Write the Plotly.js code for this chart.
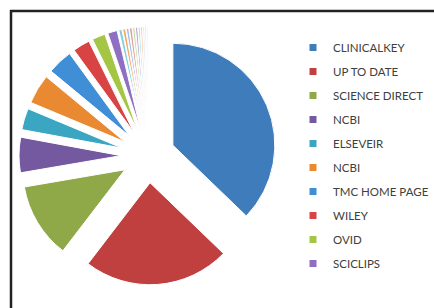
<!DOCTYPE html>
<html>
<head>
<meta charset="utf-8">
<script src="https://cdn.plot.ly/plotly-3.0.1.min.js"></script>
<style>
html,body{margin:0;padding:0;background:#fff;}
#chart{width:434px;height:308px;}
</style>
</head>
<body>
<div id="chart"></div>
<script>
// Named legend categories (first 10 slices) and their values (% of responses)
const legendLabels = ["CLINICALKEY","UP TO DATE","SCIENCE DIRECT","NCBI","ELSEVEIR","NCBI ","TMC HOME PAGE","WILEY","OVID","SCICLIPS"];
const legendValues = [37.2, 23.2, 11.9, 5.6, 3.4, 4.7, 4.0, 2.7, 2.1, 1.5];
const legendColors = ["#3e7cbc","#c0403f","#8fa848","#7459a0","#3aa6c2","#e98a33","#3f8ed6","#d84444","#a4c644","#8f6fc1"];

// Small unlabelled slices (not shown in the legend)
const otherLabels = ["s11","s12","s13","s14","s15","s16","s17","s18","s19","s20","s21"];
const otherValues = [0.5, 0.45, 0.4, 0.4, 0.35, 0.35, 0.3, 0.3, 0.25, 0.2, 0.2];
const otherColors = ["#7fd0e0","#f5a860","#9ec0e8","#e89898","#c8dc98","#b8a8d8","#a8dce8","#f8c8a0","#c8d8f0","#f0c8c8","#dde8c8"];

const pieLabels = legendLabels.concat(otherLabels);
const pieValues = legendValues.concat(otherValues);
const pieColors = legendColors.concat(otherColors);

const pie = {
  type: "pie",
  labels: pieLabels,
  values: pieValues,
  sort: false,
  direction: "clockwise",
  rotation: 0,
  pull: 0.265,
  textinfo: "none",
  hoverinfo: "label+percent",
  marker: {colors: pieColors, line: {color: "#ffffff", width: 1}},
  domain: {x: [19/434, 277/434], y: [1 - 284.8/308, 1 - 26.8/308]},
  showlegend: false
};

const legendTraces = legendLabels.map((name, i) => ({
  type: "scatter",
  mode: "markers",
  x: [null], y: [null],
  name: name,
  legendgroup: "g" + i,
  marker: {symbol: "square", size: 7, color: legendColors[i]},
  showlegend: true
}));

const layout = {
  width: 434, height: 308,
  margin: {l: 0, r: 0, t: 0, b: 0},
  paper_bgcolor: "#ffffff",
  plot_bgcolor: "rgba(0,0,0,0)",
  font: {family: "Lato, 'Open Sans', sans-serif", color: "#404040"},
  xaxis: {visible: false},
  yaxis: {visible: false},
  showlegend: true,
  legend: {
    x: 293/434, xanchor: "left",
    y: 1 - 33/308, yanchor: "top",
    font: {size: 11.5, color: "#404040", family: "Lato, 'Open Sans', sans-serif"},
    tracegroupgap: 5,
    bgcolor: "rgba(0,0,0,0)",
    itemclick: false
  },
  shapes: [
    {type: "line", xref: "paper", yref: "paper", x0: 10/434, x1: 1, y0: 1 - 11/308, y1: 1 - 11/308, line: {color: "#222", width: 2.5}},
    {type: "line", xref: "paper", yref: "paper", x0: 11/434, x1: 11/434, y0: 1 - 10/308, y1: 0, line: {color: "#222", width: 2.5}}
  ]
};

Plotly.newPlot("chart", [pie].concat(legendTraces), layout, {displayModeBar: false, staticPlot: true});
</script>
</body>
</html>
